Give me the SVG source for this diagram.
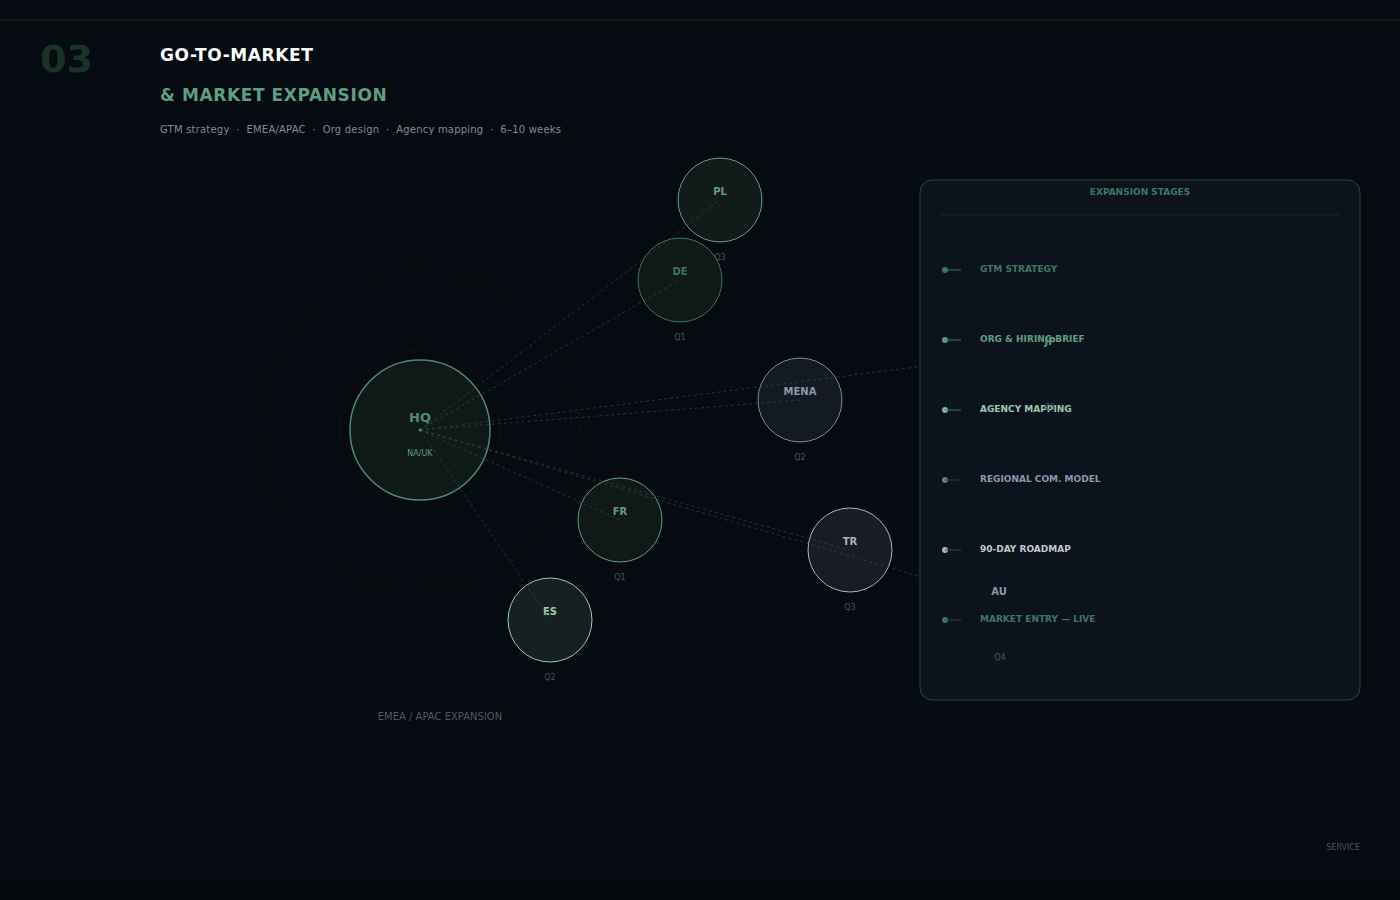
<svg xmlns="http://www.w3.org/2000/svg" width="1400" height="900" viewBox="0 0 1400 900">
<style>
.t{font-family:"DejaVu Sans",sans-serif;font-weight:bold}
.h{font-family:"DejaVu Sans",sans-serif;font-weight:bold;letter-spacing:0.6px}
.q{font-family:"DejaVu Sans",sans-serif;font-size:8px;fill:#4a5560;text-anchor:middle}
.c{stroke:#3a4a48;stroke-width:0.8;stroke-dasharray:3 3;fill:none;opacity:0.8}
.st{font-family:"DejaVu Sans",sans-serif;font-weight:bold;font-size:9px}
</style>
<rect width="1400" height="900" fill="#060a11"/>
<line x1="0" y1="20" x2="1400" y2="20" stroke="#15261f"/>
<line x1="0" y1="880" x2="1400" y2="880" stroke="#0d1418"/>
<rect x="0" y="880" width="1400" height="20" fill="#05080b"/>
<text x="40" y="72" font-family="DejaVu Sans,sans-serif" font-weight="bold" font-size="38" fill="#1a3328">03</text>
<text x="160" y="61" class="h" font-size="17" fill="#ffffff">GO-TO-MARKET</text>
<text x="160" y="101" class="h" font-size="17" fill="#5e9f80">&amp; MARKET EXPANSION</text>
<text x="160" y="133" font-family="DejaVu Sans,sans-serif" font-size="10" fill="#7f8c99" xml:space="preserve" textLength="401">GTM strategy  ·  EMEA/APAC  ·  Org design  ·  Agency mapping  ·  6–10 weeks</text>
<g fill="none" stroke="#0f1a16" stroke-dasharray="3 4">
<circle cx="420" cy="430" r="160"/>
</g>
<g id="hq"><circle cx="420" cy="430" r="80" fill="none" stroke="#10201a" stroke-dasharray="2 2"/><circle cx="420" cy="430" r="70" fill="#0f1a18" stroke="#4f8a70" stroke-width="1.5"/><text x="420" y="422" class="t" font-size="13" fill="#4f8a70" text-anchor="middle">HQ</text><text x="420" y="456" font-family="DejaVu Sans,sans-serif" font-size="8" fill="#5e9f80" text-anchor="middle">NA/UK</text></g>
<g id="pl"><circle cx="720" cy="200" r="42" fill="#111c1a" stroke="#5e9f80"/><text x="720" y="195" class="t" font-size="10" fill="#5e9f80" text-anchor="middle">PL</text><text x="720" y="260" class="q">Q3</text></g>
<g id="de"><circle cx="680" cy="280" r="42" fill="#0f1a18" stroke="#3f7660"/><text x="680" y="275" class="t" font-size="10" fill="#3f7660" text-anchor="middle">DE</text><text x="680" y="340" class="q">Q1</text></g>
<g id="mena"><circle cx="800" cy="400" r="42" fill="#141a24" stroke="#7a8aa0"/><text x="800" y="395" class="t" font-size="10" fill="#8a98ac" text-anchor="middle">MENA</text><text x="800" y="460" class="q">Q2</text></g>
<g id="fr"><circle cx="620" cy="520" r="42" fill="#0f1a18" stroke="#5e9f80"/><text x="620" y="515" class="t" font-size="10" fill="#5e9f80" text-anchor="middle">FR</text><text x="620" y="580" class="q">Q1</text></g>
<g id="tr"><circle cx="850" cy="550" r="42" fill="#181d24" stroke="#a8b4c0"/><text x="850" y="545" class="t" font-size="10" fill="#a8b4c0" text-anchor="middle">TR</text><text x="850" y="610" class="q">Q3</text></g>
<g id="es"><circle cx="550" cy="620" r="42" fill="#162020" stroke="#9ec8b0"/><text x="550" y="615" class="t" font-size="10" fill="#9ec8b0" text-anchor="middle">ES</text><text x="550" y="680" class="q">Q2</text></g>
<g id="connectors">
<line class="c" x1="420" y1="430" x2="720" y2="200"/>
<line class="c" x1="420" y1="430" x2="680" y2="280"/>
<line class="c" x1="420" y1="430" x2="1050" y2="350"/>
<line class="c" x1="420" y1="430" x2="800" y2="400"/>
<line class="c" x1="420" y1="430" x2="620" y2="520"/>
<line class="c" x1="420" y1="430" x2="850" y2="550"/>
<line class="c" x1="420" y1="430" x2="1000" y2="600"/>
<line class="c" x1="420" y1="430" x2="550" y2="620"/>
</g>
<circle cx="420" cy="430" r="1.5" fill="#4f8a70"/>
<text x="440" y="720" font-family="DejaVu Sans,sans-serif" font-size="10" fill="#4f5a66" text-anchor="middle">EMEA / APAC EXPANSION</text>
<g id="panel">
<rect x="920" y="180" width="440" height="520" rx="12" fill="#0d131d" stroke="#234a3c"/>
<text x="1140" y="195" class="st" font-size="10" fill="#3f7660" text-anchor="middle">EXPANSION STAGES</text>
<line x1="940" y1="215" x2="1340" y2="215" stroke="#1a2430"/>
<line x1="950" y1="278" x2="950" y2="608" stroke="#1a2430" stroke-dasharray="1 2"/>
<g><circle cx="945" cy="270" r="3" fill="#3f7660"/><line x1="945" y1="270" x2="961" y2="270" stroke="#3f7660"/><text x="980" y="272" class="st" fill="#3f7660">GTM STRATEGY</text></g>
<g><circle cx="945" cy="340" r="3" fill="#5e9f80"/><line x1="945" y1="340" x2="961" y2="340" stroke="#3f7660"/><text x="980" y="342" class="st" fill="#5e9f80">ORG &amp; HIRING BRIEF</text></g>
<g><circle cx="945" cy="410" r="3" fill="#7fb39a"/><line x1="945" y1="410" x2="961" y2="410" stroke="#3f7660"/><text x="980" y="412" class="st" fill="#9ec8b0">AGENCY MAPPING</text></g>
<g><circle cx="945" cy="480" r="3" fill="#6a7890"/><line x1="945" y1="480" x2="961" y2="480" stroke="#2f3a48"/><text x="980" y="482" class="st" fill="#8a98ac">REGIONAL COM. MODEL</text></g>
<g><circle cx="945" cy="550" r="3" fill="#a8b4c0"/><line x1="945" y1="550" x2="961" y2="550" stroke="#3a4450"/><text x="980" y="552" class="st" fill="#c0c8d0">90-DAY ROADMAP</text></g>
<g><circle cx="945" cy="620" r="3" fill="#3f7660"/><line x1="945" y1="620" x2="961" y2="620" stroke="#2a4a3c"/><text x="980" y="622" class="st" fill="#3f7660">MARKET ENTRY — LIVE</text></g>
</g>
<g id="jp"><text x="1050" y="345" class="t" font-size="10" fill="#5e9f80" text-anchor="middle">JP</text><text x="1050" y="410" class="q">Q1</text></g>
<g id="au"><text x="999" y="595" class="t" font-size="10" fill="#8a98ac" text-anchor="middle">AU</text><text x="1000" y="660" class="q">Q4</text></g>
<text x="1360" y="850" font-family="DejaVu Sans,sans-serif" font-size="8" fill="#4a5560" text-anchor="end">SERVICE</text>
</svg>
